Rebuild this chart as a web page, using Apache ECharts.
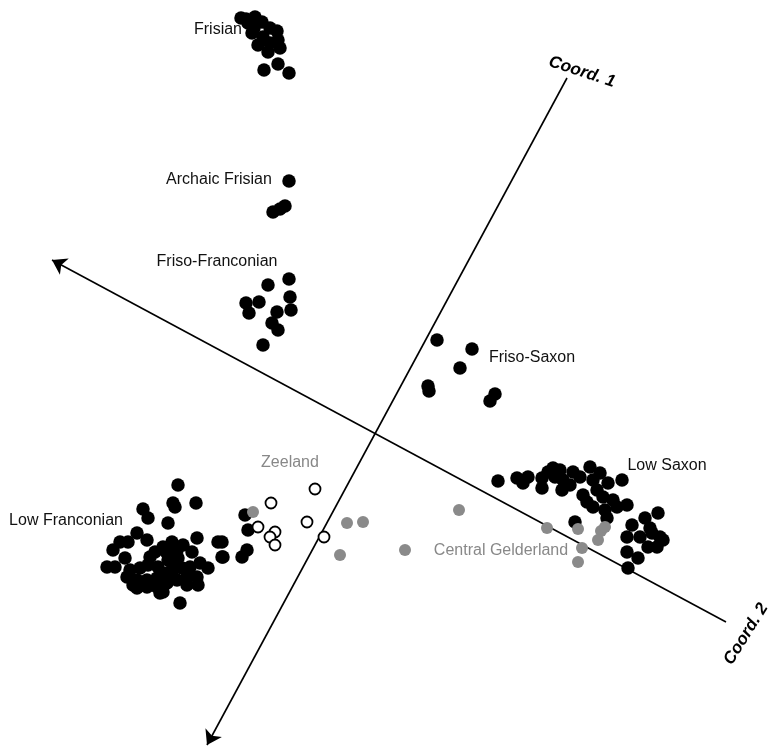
<!DOCTYPE html>
<html>
<head>
<meta charset="utf-8">
<script src="https://cdn.jsdelivr.net/npm/echarts@6/dist/echarts.min.js"></script>
<style>
  html, body { margin: 0; padding: 0; background: #fff; }
  #chart { width: 771px; height: 749px; }
</style>
</head>
<body>
<div id="chart"></div>
<script>
// MDS-Karte der niederländischen Dialektgruppen (Koordinaten in Bildpunkten gelesen)

const frisian = [
  [241, 18], [255, 17], [248, 23], [262, 22], [270, 28], [277, 31], [252, 33],
  [263, 37], [278, 40], [270, 43], [258, 45], [280, 48], [268, 52], [246, 19],
  [254, 28], [264, 70], [278, 64], [289, 73]
];
const archaicFrisian = [[289, 181], [285, 206], [280, 209], [273, 212]];
const frisoFranconian = [
  [268, 285], [289, 279], [290, 297], [291, 310], [246, 303], [249, 313],
  [259, 302], [277, 312], [272, 323], [278, 330], [263, 345]
];
const frisoSaxon = [[437, 340], [472, 349], [460, 368], [428, 386], [429, 391], [495, 394], [490, 401]];
const lowSaxon = [
  [498, 481], [517, 478], [523, 483], [528, 477], [542, 478], [553, 468], [555, 477],
  [563, 480], [573, 472], [590, 467], [580, 477], [542, 488], [562, 490], [570, 485],
  [593, 480], [600, 473], [608, 483], [622, 480], [583, 495], [587, 502], [597, 490],
  [603, 497], [593, 507], [613, 500], [617, 507], [627, 505], [605, 510], [607, 518],
  [575, 522], [548, 472], [560, 470],
  [658, 513], [632, 525], [645, 518], [627, 537], [640, 537], [652, 533], [660, 537],
  [648, 547], [657, 547], [627, 552], [638, 558], [628, 568], [663, 540], [650, 528]
];
const lowFranconian = [
  [178, 485], [173, 503], [175, 507], [196, 503], [143, 509], [148, 518], [168, 523],
  [197, 538], [218, 542], [222, 557], [113, 550], [107, 567], [115, 567], [125, 558],
  [128, 542], [137, 533], [147, 540], [155, 552], [163, 547], [172, 542], [183, 545],
  [192, 552], [178, 558], [168, 560], [158, 567], [148, 565], [140, 568], [130, 570],
  [127, 577], [137, 580], [147, 580], [157, 578], [167, 573], [173, 570], [182, 568],
  [190, 567], [200, 563], [208, 568], [197, 577], [187, 577], [177, 580], [167, 583],
  [157, 587], [147, 587], [137, 588], [133, 585], [163, 592], [160, 593], [198, 585],
  [187, 585], [180, 603], [173, 567], [150, 557], [167, 553], [177, 550], [120, 542],
  [245, 515], [248, 530], [247, 550], [242, 557], [222, 542], [223, 557]
];
const zeeland = [[315, 489], [271, 503], [258, 527], [275, 532], [270, 537], [275, 545], [307, 522], [324, 537]];
const centralGelderland = [
  [253, 512], [347, 523], [363, 522], [340, 555], [405, 550], [459, 510], [547, 528],
  [578, 529], [601, 531], [598, 540], [582, 548], [578, 562], [605, 527]
];

// Achsen: [Ende ohne Pfeil, Pfeilspitze]
const coord1Line = [[567, 78], [207, 745]];
const coord2Line = [[726, 622], [52, 260]];

// Beschriftungen: [x, y, Text]
const blackLabels = [
  [218, 30, 'Frisian'], [219, 180, 'Archaic Frisian'], [217, 262, 'Friso-Franconian'],
  [532, 358, 'Friso-Saxon'], [667, 466, 'Low Saxon'], [66, 521, 'Low Franconian']
];
const grayLabels = [[290, 463, 'Zeeland'], [501, 551, 'Central Gelderland']];
const axisLabels = [[582, 72, 'Coord. 1', -18], [746, 634, 'Coord. 2', 58]];

const chart = echarts.init(document.getElementById('chart'));

const dotSeries = (data, color) => ({
  type: 'scatter',
  data: data,
  symbolSize: 13.5,
  itemStyle: { color: color, opacity: 1 },
  z: 3,
  silent: true
});

const labelSeries = (data, labelStyle) => ({
  type: 'scatter',
  data: data,
  symbolSize: 0,
  itemStyle: { opacity: 1 },
  label: Object.assign({
    show: true,
    position: 'inside',
    formatter: p => p.value[2],
    fontFamily: 'Liberation Sans',
    fontSize: 16
  }, labelStyle),
  z: 5,
  silent: true
});

chart.setOption({
  animation: false,
  grid: { left: 0, right: 0, top: 0, bottom: 0 },
  xAxis: { type: 'value', min: 0, max: 771, show: false },
  yAxis: { type: 'value', min: 0, max: 749, inverse: true, show: false },
  series: [
    {
      type: 'lines',
      coordinateSystem: 'cartesian2d',
      symbol: ['none', 'arrow'],
      symbolSize: [10, 14],
      lineStyle: { color: '#000', width: 1.6, opacity: 1 },
      data: [{ coords: coord1Line }, { coords: coord2Line }],
      z: 1,
      silent: true
    },
    dotSeries(frisian, '#000'),
    dotSeries(archaicFrisian, '#000'),
    dotSeries(frisoFranconian, '#000'),
    dotSeries(frisoSaxon, '#000'),
    dotSeries(lowSaxon, '#000'),
    dotSeries(lowFranconian, '#000'),
    {
      type: 'scatter',
      data: zeeland,
      symbolSize: 11,
      itemStyle: { color: '#fff', borderColor: '#000', borderWidth: 1.8, opacity: 1 },
      z: 4,
      silent: true
    },
    {
      type: 'scatter',
      data: centralGelderland,
      symbolSize: 12,
      itemStyle: { color: '#8a8a8a', opacity: 1 },
      z: 4,
      silent: true
    },
    labelSeries(blackLabels, { color: '#111' }),
    labelSeries(grayLabels, { color: '#888' }),
    labelSeries(axisLabels.map(a => ({
      value: [a[0], a[1], a[2]],
      label: { rotate: a[3] }
    })), { color: '#000', fontSize: 17, fontWeight: 'bold', fontStyle: 'italic' })
  ]
});

window.addEventListener('resize', () => chart.resize());
</script>
</body>
</html>
